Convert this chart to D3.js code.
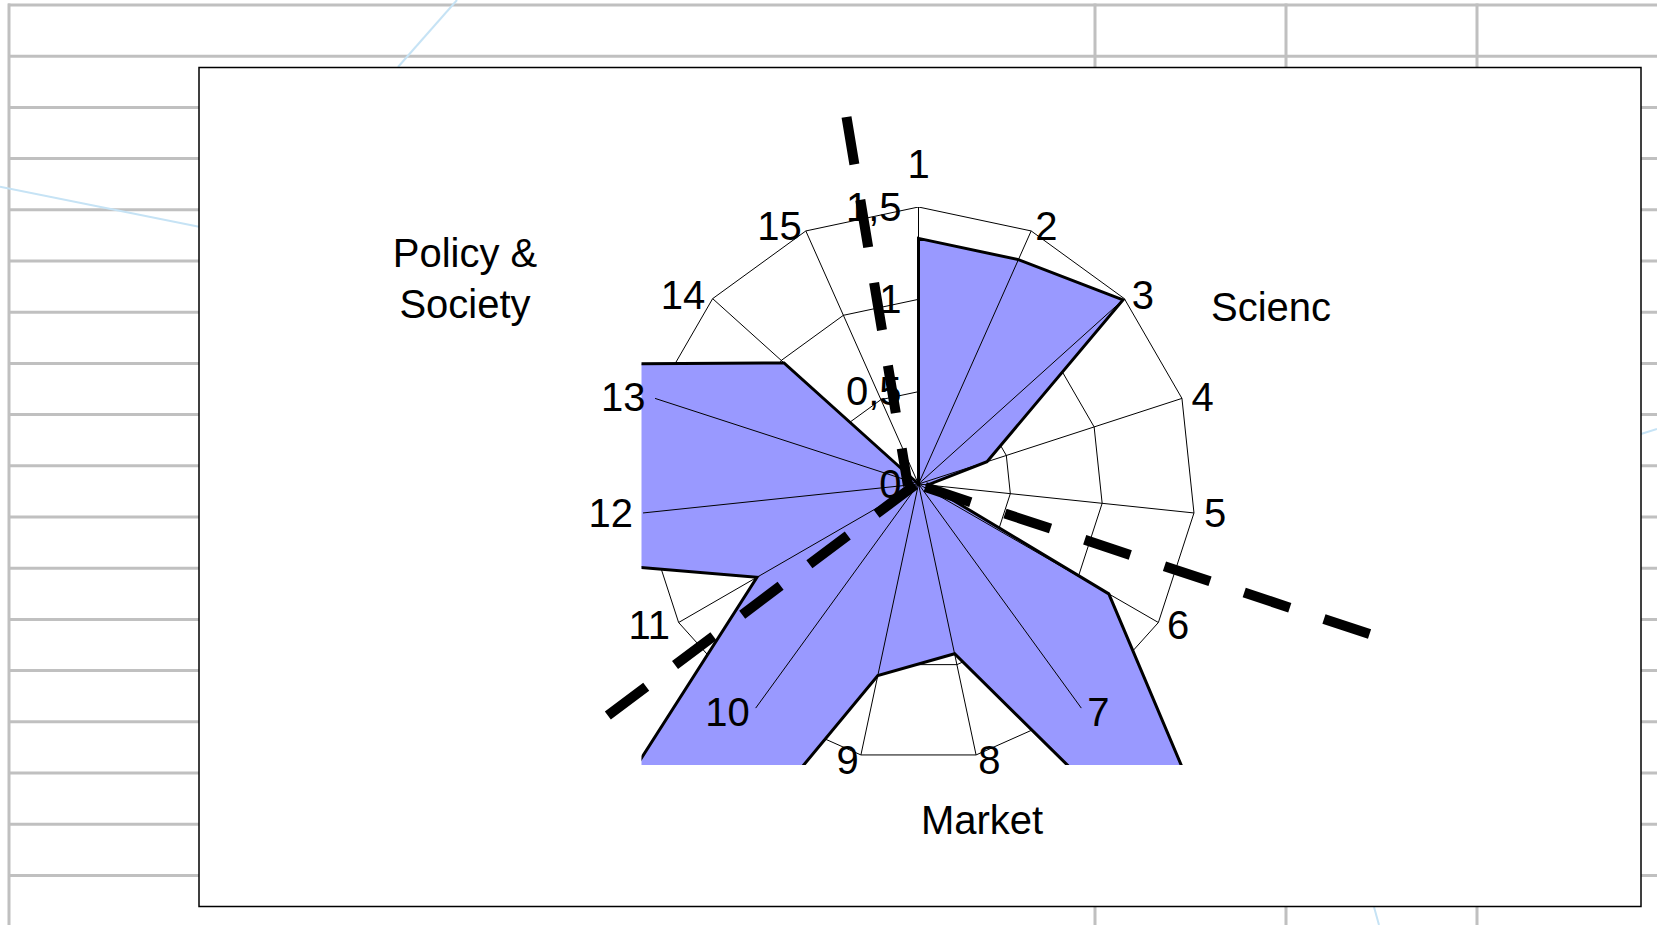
<!DOCTYPE html>
<html>
<head>
<meta charset="utf-8">
<script src="https://cdn.jsdelivr.net/npm/d3@7/dist/d3.min.js"></script>
<style>
    html, body { margin: 0; padding: 0; background: #fff; }
    svg { display: block; font-family: "Liberation Sans", Arial, sans-serif; }
</style>
</head>
<body>
<svg id="radar"></svg>
<script>
// chart values
const categories = ['1', '2', '3', '4', '5', '6', '7', '8', '9', '10', '11', '12', '13', '14', '15'];
const values = [1.33, 1.33, 1.49, 0.39, 0.05, 1.19, 3.17, 0.94, 1.06, 7.8, 1.01, 3.08, 2.1, 0.98, 0];
const tickValues = [0, 0.5, 1, 1.5];
const tickLabels = ['0', '0,5', '1', '1,5'];
const groupNames = [['Policy &', 'Society'], ['Scienc'], ['Market']];
// dashed separators: [angle in degrees, value] at each end
const separators = [
    [[348.9, 2.025], [259, 0.058]],
    [[115, 0.04], [108.4, 2.594]],
    [[254, 0.02], [233.3, 2.12]]
];

const W = 1657,
    H = 925,
    CX = 918.5,
    CY = 484,
    R = 277;
const BOX = { x: 199, y: 67.5, w: 1442, h: 839 };
const ROW = { top: 5, h: 51.2 };
const COL_X = [1095, 1286, 1477];
const FONT = 40;

// label spots for the group names
const GROUP_POS = [
    { x: 465, y: 267, anchor: 'middle' },
    { x: 1211, y: 321, anchor: 'start' },
    { x: 982, y: 834, anchor: 'middle' }
];

const $svg = d3.select('#radar').attr('width', W).attr('height', H);

const rScale = d3.scaleLinear().domain([0, 1.5]).range([0, R]);
const aScale = d3.scaleLinear().domain([0, categories.length]).range([0, 2 * Math.PI]);

const pt = (a, r) => [CX + r * Math.sin(a), CY - r * Math.cos(a)];

function drawSheet() {
    const g = $svg.append('g').attr('class', 'sheet');
    const rows = d3.range(ROW.top, H, ROW.h);
    g.selectAll('line.row')
        .data(rows)
        .join('line')
        .attr('x1', 8).attr('x2', W)
        .attr('y1', d => d).attr('y2', d => d)
        .attr('stroke', '#c0c0c0').attr('stroke-width', 3);
    g.selectAll('line.col')
        .data([9].concat(COL_X))
        .join('line')
        .attr('x1', d => d).attr('x2', d => d)
        .attr('y1', ROW.top - 1.5).attr('y2', H)
        .attr('stroke', '#c0c0c0').attr('stroke-width', 3);

    // stray connector lines from other shapes on the sheet
    const strays = [[457, 0, 398, 67], [0, 186.7, 199, 226.7], [1641, 434, 1657, 429], [1374, 907, 1379, 925]];
    g.selectAll('line.stray')
        .data(strays)
        .join('line')
        .attr('x1', d => d[0]).attr('y1', d => d[1])
        .attr('x2', d => d[2]).attr('y2', d => d[3])
        .attr('stroke', '#c6e3f5').attr('stroke-width', 2);

    $svg.append('rect')
        .attr('x', BOX.x).attr('y', BOX.y)
        .attr('width', BOX.w).attr('height', BOX.h)
        .attr('fill', '#fff')
        .attr('stroke', '#000').attr('stroke-width', 1.5);
}

function drawChart() {
    $svg.append('clipPath').attr('id', 'plot-clip')
        .append('rect')
        .attr('x', CX - R).attr('y', CY - R)
        .attr('width', 2 * R).attr('height', 2 * R + 4);

    const $plot = $svg.append('g').attr('clip-path', 'url(#plot-clip)');
    const $g = $plot.append('g').attr('transform', `translate(${CX},${CY})`);

    // web gridlines
    tickValues.filter(v => v > 0).forEach(v => {
        const ring = d3.lineRadial()
            .angle((d, i) => aScale(i))
            .radius(rScale(v))
            .curve(d3.curveLinearClosed);
        $g.append('path')
            .attr('d', ring(categories))
            .attr('fill', 'none')
            .attr('stroke', '#000')
            .attr('stroke-width', 1);
    });

    // series area
    const area = d3.lineRadial()
        .angle((d, i) => aScale(i))
        .radius(d => rScale(d))
        .curve(d3.curveLinearClosed);
    $g.append('path')
        .attr('d', area(values))
        .attr('fill', '#9999ff')
        .attr('stroke', '#000')
        .attr('stroke-width', 3)
        .attr('stroke-linejoin', 'miter');

    // spokes
    $g.selectAll('line.spoke')
        .data(categories)
        .join('line')
        .attr('x1', 0).attr('y1', 0)
        .attr('x2', (d, i) => R * Math.sin(aScale(i)))
        .attr('y2', (d, i) => -R * Math.cos(aScale(i)))
        .attr('stroke', '#000')
        .attr('stroke-width', 1);

    // category labels
    const $labels = $svg.append('g').attr('font-size', FONT).attr('fill', '#000');
    $labels.selectAll('text.cat')
        .data(categories)
        .join('text')
        .each(function (d, i) {
            const a = aScale(i);
            const s = Math.sin(a);
            const px = pt(a, R + 10)[0];
            const py = pt(a, R + 5)[1];
            let anchor = s > 0.05 ? 'start' : (s < -0.05 ? 'end' : 'middle');
            let y = py + 14;
            if (i === 0) y = CY - R - 29;
            d3.select(this)
                .attr('x', px).attr('y', y)
                .attr('text-anchor', anchor)
                .text(d);
        });

    // value axis labels
    $labels.selectAll('text.tick')
        .data(tickValues)
        .join('text')
        .attr('x', CX - 17)
        .attr('y', d => CY - rScale(d) + 13.5)
        .attr('text-anchor', 'end')
        .text((d, i) => tickLabels[i]);

    // group names
    groupNames.forEach((lines, k) => {
        const p = GROUP_POS[k];
        const t = $labels.append('text')
            .attr('x', p.x).attr('y', p.y)
            .attr('text-anchor', p.anchor);
        lines.forEach((l, j) => {
            t.append('tspan')
                .attr('x', p.x)
                .attr('dy', j === 0 ? 0 : 51)
                .text(l);
        });
    });

    // dashed separators drawn over everything
    const toRad = deg => deg * Math.PI / 180;
    const sepLine = d3.line()
        .x(d => pt(toRad(d[0]), rScale(d[1]))[0])
        .y(d => pt(toRad(d[0]), rScale(d[1]))[1]);
    $svg.append('g').selectAll('path')
        .data(separators)
        .join('path')
        .attr('d', sepLine)
        .attr('fill', 'none')
        .attr('stroke', '#000')
        .attr('stroke-width', 10)
        .attr('stroke-dasharray', '48,36')
        .attr('stroke-linecap', 'butt');
}

drawSheet();
drawChart();
</script>
</body>
</html>
